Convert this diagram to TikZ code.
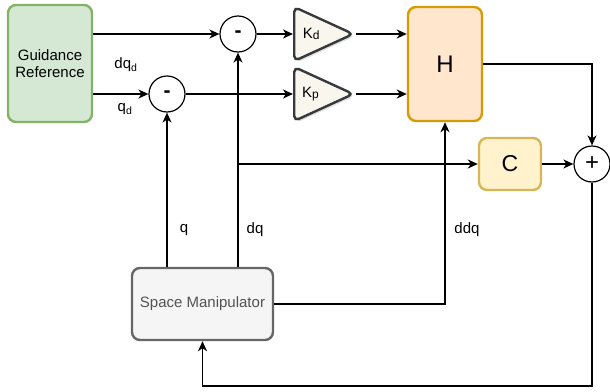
\documentclass[tikz,border=0pt]{standalone}
\usepackage{fontspec}
\setmainfont{Liberation Sans}
\usetikzlibrary{arrows.meta,shapes.geometric,shadows}
\definecolor{guideFill}{HTML}{D5E8D4}
\definecolor{guideLine}{HTML}{82B366}
\definecolor{hFill}{HTML}{FFE6CC}
\definecolor{hLine}{HTML}{D79B00}
\definecolor{cFill}{HTML}{FFF2CC}
\definecolor{cLine}{HTML}{D6B656}
\definecolor{smFill}{HTML}{F5F5F5}
\definecolor{smLine}{HTML}{666666}
\definecolor{gainFill}{HTML}{F9F7ED}
\definecolor{gainLine}{HTML}{36393D}
\tikzset{
  sig/.style={-{Stealth[length=10pt,width=9pt,inset=3pt]},line width=1.6pt},
  blk/.style={rectangle,rounded corners=8pt,line width=2.4pt,align=center,
              font=\fontsize{15}{17}\selectfont},
  sumnode/.style={circle,draw,line width=1.2pt,fill=white,minimum size=36pt,
                  inner sep=0pt},
  gain/.style={isosceles triangle,isosceles triangle stretches,draw=gainLine,
               fill=gainFill,line width=2.4pt,rounded corners=5pt,
               minimum width=54pt,minimum height=59pt,inner sep=0pt,anchor=west,
               font=\fontsize{15}{17}\selectfont,
               drop shadow={opacity=0.25,shadow xshift=2pt,shadow yshift=-2pt}},
  lbl/.style={font=\fontsize{15}{17}\selectfont}}
\newcommand{\gainlbl}[1]{K{\fontsize{12}{14}\selectfont\raisebox{-1pt}{#1}}\hspace{9pt}}

\begin{document}
\begin{tikzpicture}[x=1pt,y=-1pt]
\useasboundingbox (0,0) rectangle (610,391);

\node[blk,draw=guideLine,fill=guideFill,minimum width=84pt,minimum height=117pt]
  (guide) at (50,63.5) {Guidance\\Reference};
\node[sumnode,font=\fontsize{21}{23}\bfseries] (sub1) at (238,34) {-};
\node[sumnode,font=\fontsize{21}{23}\bfseries] (sub2) at (167,94) {-};
\node[gain] (kd) at (293,34) {\gainlbl{d}};
\node[gain] (kp) at (293,94) {\gainlbl{p}};
\node[blk,draw=hLine,fill=hFill,minimum width=74pt,minimum height=114pt,
  font=\fontsize{24}{26}\selectfont] (H) at (445,64) {H};
\node[blk,draw=cLine,fill=cFill,minimum width=62pt,minimum height=52pt,
  font=\fontsize{23}{25}\selectfont] (C) at (510,164) {C};
\node[sumnode,font=\fontsize{24}{26}\selectfont] (add) at (592,164) {+};
\node[blk,draw=smLine,fill=smFill,text=smLine!80!black,minimum width=141pt,
  minimum height=72pt] (sm) at (202.5,304) {Space Manipulator};

\coordinate (tap) at (sub1 |- C.west);
\coordinate (fbk) at (592,386);

\draw[sig] (guide.east |- sub1) -- (sub1.west);
\draw[sig] (guide.east |- sub2) -- (sub2.west);
\draw[sig] (sub1.east) -- (kd.west);
\draw[sig] (sub2.east) -- (kp.west);
\draw[sig] (kd.east) -- (kd.east -| H.west);
\draw[sig] (kp.east) -- (kp.east -| H.west);
\draw[sig] (H.east) -| (add.north);
\draw[sig] (C.east) -- (add.west);
\draw[sig] (sm.north -| sub2) -- (sub2.south);
\draw[sig] (sm.north -| sub1) -- (sub1.south);
\draw[sig] (tap) -- (C.west);
\draw[sig] (sm.east) -| (H.south);
\draw[sig] (add.south) -- (fbk) -| (sm.south);

\node[lbl] (lbldqd) at (126,65) {dq\textsubscript{d}};
\node[lbl] (lblqd) at (125,109) {q\textsubscript{d}};
\node[lbl] (lblq) at (184,230) {q};
\node[lbl] (lbldq) at (255,230) {dq};
\node[lbl] (lblddq) at (467,230) {ddq};
\end{tikzpicture}
\end{document}
